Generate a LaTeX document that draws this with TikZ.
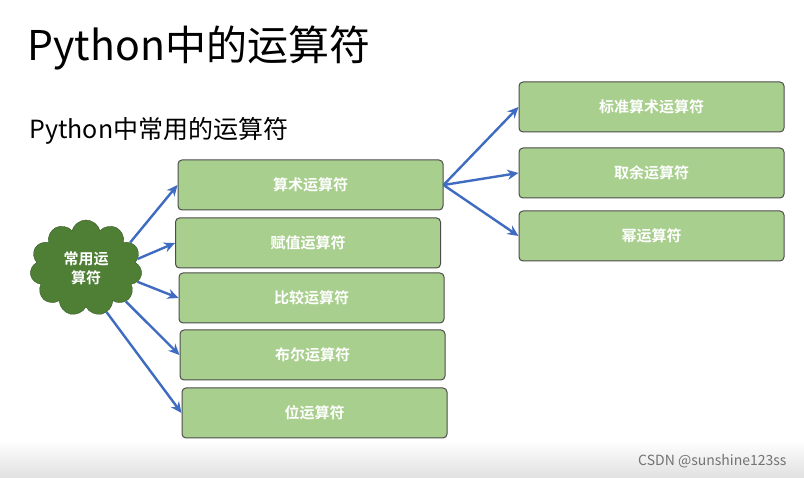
\documentclass[tikz,border=0pt]{standalone}
\usepackage{fontspec}
\setmainfont{Noto Sans CJK SC}[BoldFont={Noto Sans CJK SC Bold}]
\usetikzlibrary{shapes.symbols,arrows.meta}
\definecolor{boxg}{HTML}{A9CF8E}
\definecolor{cloudg}{HTML}{4E7F35}
\definecolor{arr}{HTML}{3F6CC0}
\tikzset{
 opbox/.style={draw=black!70,fill=boxg,rounded corners=4pt,minimum width=265pt,minimum height=50pt,font=\fontsize{15}{17}\selectfont\bfseries,text=white,line width=1pt},
 conn/.style={draw=arr,line width=2.4pt,-{Stealth[length=11pt,width=10pt]}}
}
\begin{document}
\begin{tikzpicture}[x=1pt,y=-1pt]
\useasboundingbox (0,0) rectangle (804,478);
\fill[white] (0,0) rectangle (804,478);
\shade[top color=white,bottom color=black!12] (0,440) rectangle (804,478);
\node[anchor=west,font=\fontsize{41}{44}\selectfont] (title) at (24,48) {Python中的运算符};
\node[anchor=west,font=\fontsize{25}{28}\selectfont] (sub) at (26,131) {Python中常用的运算符};
\node[cloud,cloud puffs=11,aspect=1.1,draw=cloudg!70!black,fill=cloudg,minimum width=112pt,minimum height=96pt,align=center,font=\fontsize{15}{19}\selectfont\bfseries,text=white,inner sep=0pt] (c) at (86,268) {常用运\\算符};
\node[opbox] (a) at (310.5,185) {算术运算符};
\node[opbox] (b) at (308,243) {赋值运算符};
\node[opbox] (d) at (311.5,298) {比较运算符};
\node[opbox] (e) at (312.5,355) {布尔运算符};
\node[opbox] (f) at (314.5,413) {位运算符};
\node[opbox] (r1) at (651.5,107) {标准算术运算符};
\node[opbox] (r2) at (651.5,173) {取余运算符};
\node[opbox] (r3) at (651.5,236) {幂运算符};
\draw[conn] (c.30) -- (a.west);
\draw[conn] (c.10) -- (b.west);
\draw[conn] (c.-15) -- (d.west);
\draw[conn] (c.-40) -- (e.west);
\draw[conn] (c.-65) -- (f.west);
\draw[conn] (a.east) -- (r1.west);
\draw[conn] (a.east) -- (r2.west);
\draw[conn] (a.east) -- (r3.west);
\node[anchor=east,font=\fontsize{14}{16}\selectfont,text=black!55] (wm) at (790,461) {CSDN @sunshine123ss};
\end{tikzpicture}
\end{document}
